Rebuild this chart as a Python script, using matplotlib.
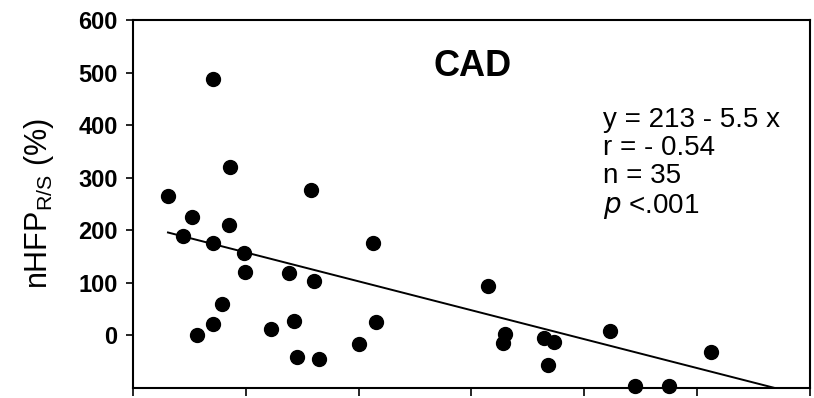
import matplotlib.pyplot as plt
import numpy as np

plt.rcParams["font.family"] = ["Liberation Sans", "DejaVu Sans"]
plt.rcParams["mathtext.default"] = "regular"

# scatter values
x_vals = [3.1, 4.4, 5.2, 5.7, 7.1, 7.1, 7.1, 7.9, 8.6, 8.5, 9.8, 9.9, 12.2, 13.8,
          14.3, 14.5, 15.8, 16.0, 16.5, 20.0, 21.3, 21.5, 31.5, 33.0, 32.8, 36.4,
          37.3, 36.8, 42.3, 44.5, 47.5, 51.2]
y_vals = [266, 189, 226, 0, 488, 176, 21, 59, 321, 210, 157, 121, 13, 118,
          27, -40, 277, 103, -44, -17, 176, 25, 94, 2, -15, -4,
          -13, -57, 8, -96, -97, -31]

# regression y = 213 - 5.5 x
intercept = 213
slope = -5.5
fit_x = np.array([3.1, 60])

stats_lines = ["y = 213 - 5.5 x", "r = - 0.54", "n = 35", "$\\it{p}$ <.001"]

fig = plt.figure(figsize=(8.14, 3.98), dpi=100)
ax = fig.add_axes([0.1634, 0.025, 0.8316, 0.9245])

ax.scatter(x_vals, y_vals, s=100, color="black", zorder=3, clip_on=False)
ax.plot(fit_x, intercept + slope * fit_x, color="black", lw=1.4)

ax.set_xlim(0, 60)
ax.set_ylim(-100, 600)
ax.set_xticks(np.arange(0, 61, 10))
ax.set_yticks(np.arange(0, 601, 100))
ax.tick_params(axis="y", direction="out", length=5, width=1.2, labelsize=17, pad=6)
ax.tick_params(axis="x", direction="out", length=6, width=1.2, labelbottom=False)
for lab in ax.get_yticklabels():
    lab.set_fontweight("bold")
for sp in ax.spines.values():
    sp.set_linewidth(1.5)

ax.set_ylabel("nHFP$_{R/S}$ (%)", fontsize=22, labelpad=16)

ax.text(0.502, 0.873, "CAD", transform=ax.transAxes, fontsize=26,
        fontweight="bold", ha="center", va="center")
ax.text(0.695, 0.765, "\n".join(stats_lines), transform=ax.transAxes,
        fontsize=20, ha="left", va="top", linespacing=1.12)

fig.savefig("out.png", dpi=100)
